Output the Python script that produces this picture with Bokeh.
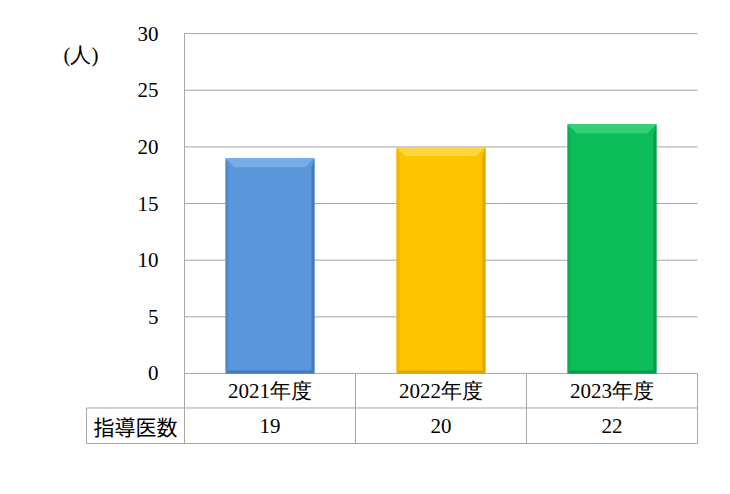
from bokeh.plotting import figure
from bokeh.models import Range1d, Label
from bokeh.embed import file_html
from bokeh.resources import INLINE

# ---- data ----
categories = ["2021年度", "2022年度", "2023年度"]
counts = [19, 20, 22]
row_label = "指導医数"
unit_label = "(人)"
y_ticks = [0, 5, 10, 15, 20, 25, 30]
y_tick_labels = ["0", "5", "10", "15", "20", "25", "30"]
bar_colors = ["#5A96DC", "#FFC400", "#0CBE5A"]
bevel_top = ["#78ACE8", "#FFD43C", "#34D078"]
bevel_side = ["#4F88CC", "#F2B400", "#08AE50"]
bevel_bottom = ["#4479BA", "#E0A600", "#079C48"]

SERIF = "Liberation Serif"
SANS_JP = "Noto Sans CJK JP"
GRID = "#A6A6A6"

p = figure(width=722, height=486, output_backend="svg", toolbar_location=None,
           x_range=Range1d(-1.0760, 3.1462), y_range=Range1d(-9.974, 32.921),
           min_border=0, outline_line_color=None)
p.axis.visible = False
p.grid.visible = False
p.background_fill_color = "white"
p.border_fill_color = "white"

n = len(categories)
ymax = y_ticks[-1]
row1 = -3.045
row2 = -6.178
left = -0.573

# grid lines
p.segment(x0=[0] * len(y_ticks), x1=[n] * len(y_ticks), y0=y_ticks, y1=y_ticks,
          line_color=GRID, line_width=1)
# axis line and table verticals
p.segment(x0=[0], x1=[0], y0=[ymax], y1=[row2], line_color=GRID, line_width=1)
p.segment(x0=list(range(1, n + 1)), x1=list(range(1, n + 1)),
          y0=[0] * n, y1=[row2] * n, line_color=GRID, line_width=1)
p.segment(x0=[left], x1=[left], y0=[row1], y1=[row2], line_color=GRID, line_width=1)
# table horizontals
p.segment(x0=[left, left], x1=[n, n], y0=[row1, row2], y1=[row1, row2],
          line_color=GRID, line_width=1)

# bars
xc = [i + 0.5 for i in range(n)]
hw = 0.26
p.vbar(x=xc, top=counts, bottom=0, width=2 * hw, fill_color=bar_colors, line_color=None)

dx = 9 / 171
dy = 9 / 11.33
sx = 3 / 171
sy = 3 / 11.33
xs, ys, cs = [], [], []
for c, t, ct, cside, cb in zip(xc, counts, bevel_top, bevel_side, bevel_bottom):
    xs.append([c - hw, c - hw + sx, c - hw + sx, c - hw]); ys.append([0, sy, t - dy, t]); cs.append(cside)
    xs.append([c + hw, c + hw - sx, c + hw - sx, c + hw]); ys.append([0, sy, t - dy, t]); cs.append(cb)
    xs.append([c - hw, c + hw, c + hw - sx, c - hw + sx]); ys.append([0, 0, sy, sy]); cs.append(cb)
    xs.append([c - hw, c + hw, c + hw - dx, c - hw + dx]); ys.append([t, t, t - dy, t - dy]); cs.append(ct)
p.patches(xs=xs, ys=ys, fill_color=cs, line_color=None)


def add_text(x, y, text, font=SERIF, size="21px", align="center"):
    p.add_layout(Label(x=x, y=y, text=text, text_font=font, text_font_size=size,
                       text_align=align, text_baseline="middle", text_color="black"))


# y tick labels
for t, lab in zip(y_ticks, y_tick_labels):
    add_text(-0.152, t, lab, align="right")
# unit label
add_text(-0.708, 28.07, unit_label, align="left")
# category row and value row
for c, cat, v in zip(xc, categories, counts):
    add_text(c, (0 + row1) / 2, cat)
    add_text(c, (row1 + row2) / 2, str(v))
add_text((left + 0) / 2, (row1 + row2) / 2, row_label, font=SANS_JP)

open("out.html", "w").write(file_html(p, INLINE))
